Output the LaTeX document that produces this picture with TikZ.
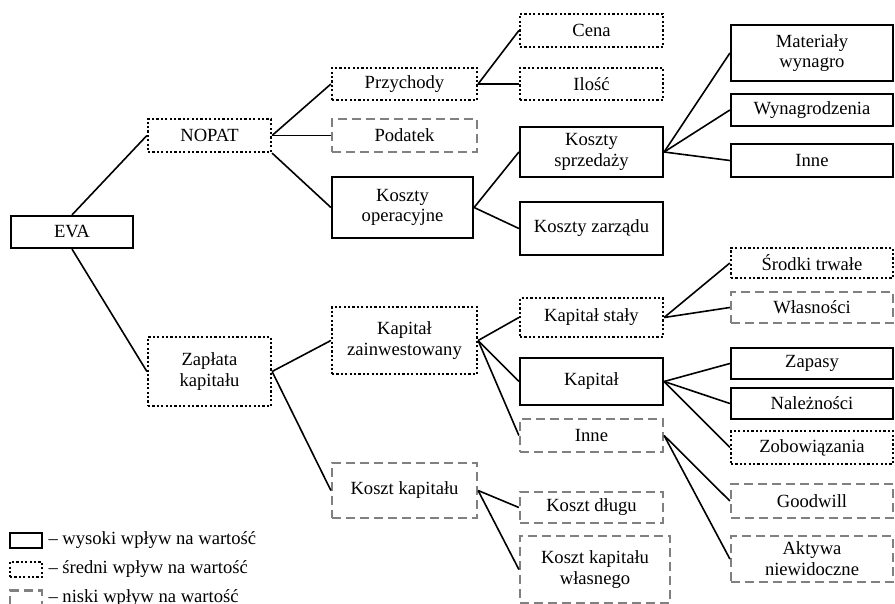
\documentclass[tikz,border=0pt]{standalone}
\usepackage{fontspec}
\setmainfont{Liberation Serif}
\usetikzlibrary{positioning}
\tikzset{
 hi/.style={draw,line width=1.1pt,align=center,inner sep=0pt},
 mid/.style={draw,line width=1.1pt,dash pattern=on 1.1pt off 1.1pt,align=center,inner sep=0pt},
 lo/.style={draw=gray,line width=1.1pt,dash pattern=on 4.5pt off 2.5pt,align=center,inner sep=0pt},
 link/.style={line width=0.8pt}
}
\begin{document}
\begin{tikzpicture}[x=0.5pt,y=-0.5pt,font=\fontsize{9.3}{10.4}\selectfont]
\useasboundingbox (0,0) rectangle (895,604);
\node (eva) at (72,232) [hi,minimum width=61pt,minimum height=16pt] {EVA};
\node (nopat) at (209.5,135.5) [mid,minimum width=61.5pt,minimum height=16.5pt] {NOPAT};
\node (zaplata) at (209.5,371.5) [mid,minimum width=61.5pt,minimum height=34.5pt] {Zapłata\\kapitału};
\node (przychody) at (404.5,84) [mid,minimum width=72.5pt,minimum height=16pt] {Przychody};
\node (podatek) at (404.5,135.5) [lo,minimum width=72.5pt,minimum height=16.5pt] {Podatek};
\node (kosztyop) at (402.5,207.5) [hi,minimum width=70.5pt,minimum height=30.5pt] {Koszty\\operacyjne};
\node (kapzain) at (404.5,340.5) [mid,minimum width=72.5pt,minimum height=33.5pt] {Kapitał\\zainwestowany};
\node (kosztkap) at (404.5,490.5) [lo,minimum width=72.5pt,minimum height=27.5pt] {Koszt kapitału};
\node (cena) at (591.5,30.5) [mid,minimum width=71.5pt,minimum height=16.5pt] {Cena};
\node (ilosc) at (591.5,84) [mid,minimum width=71.5pt,minimum height=16pt] {Ilość};
\node (sprzedaz) at (591.5,152) [hi,minimum width=71.5pt,minimum height=25pt] {Koszty\\sprzedaży};
\node (zarzad) at (591.5,228.5) [hi,minimum width=71.5pt,minimum height=26.5pt] {Koszty zarządu};
\node (kapstaly) at (591.5,317.5) [mid,minimum width=71.5pt,minimum height=19.5pt] {Kapitał stały};
\node (kapobr) at (591.5,381.5) [hi,minimum width=71.5pt,minimum height=23.5pt] {Kapitał};
\node (inne2) at (591.5,435.5) [lo,minimum width=71.5pt,minimum height=16.5pt] {Inne};
\node (dlug) at (591.5,507.5) [lo,minimum width=71.5pt,minimum height=15.5pt] {Koszt długu};
\node (wlasny) at (595,569.5) [lo,minimum width=75pt,minimum height=33.5pt] {Koszt kapitału\\własnego};
\node (materialy) at (812,53) [hi,minimum width=81pt,minimum height=28pt] {Materiały\\wynagro};
\node (wynagr) at (812,110) [hi,minimum width=81pt,minimum height=16pt] {Wynagrodzenia};
\node (inne1) at (812,160.5) [hi,minimum width=81pt,minimum height=16.5pt] {Inne};
\node (srodki) at (812,263) [mid,minimum width=81pt,minimum height=15pt] {Środki trwałe};
\node (wlasnosci) at (812,307.5) [lo,minimum width=81pt,minimum height=15.5pt] {Własności};
\node (zapasy) at (812,363.5) [hi,minimum width=81pt,minimum height=15.5pt] {Zapasy};
\node (naleznosci) at (812,403.5) [hi,minimum width=81pt,minimum height=15.5pt] {Należności};
\node (zobow) at (812,447.5) [mid,minimum width=81pt,minimum height=16.5pt] {Zobowiązania};
\node (goodwill) at (812,501) [lo,minimum width=81pt,minimum height=17pt] {Goodwill};
\node (aktywa) at (812,559) [lo,minimum width=81pt,minimum height=23pt] {Aktywa\\niewidoczne};
\draw[link] (eva.north) -- (nopat.west);
\draw[link] (eva.south) -- (zaplata.west);
\draw[link] (nopat.east) -- (przychody.west);
\draw[link] (nopat.east) -- (podatek.west);
\draw[link] (nopat.south east) -- (kosztyop.west);
\draw[link] (przychody.east) -- (cena.west);
\draw[link] (przychody.east) -- (ilosc.west);
\draw[link] (kosztyop.east) -- (sprzedaz.west);
\draw[link] (kosztyop.east) -- (zarzad.west);
\draw[link] (sprzedaz.east) -- (materialy.west);
\draw[link] (sprzedaz.east) -- (wynagr.west);
\draw[link] (sprzedaz.east) -- (inne1.west);
\draw[link] (zaplata.east) -- (kapzain.west);
\draw[link] (zaplata.east) -- (kosztkap.west);
\draw[link] (kapzain.east) -- (kapstaly.west);
\draw[link] (kapzain.east) -- (kapobr.west);
\draw[link] (kapzain.east) -- (inne2.west);
\draw[link] (kapstaly.east) -- (srodki.west);
\draw[link] (kapstaly.east) -- (wlasnosci.west);
\draw[link] (kapobr.east) -- (zapasy.west);
\draw[link] (kapobr.east) -- (naleznosci.west);
\draw[link] (kapobr.east) -- (zobow.west);
\draw[link] (inne2.east) -- (goodwill.west);
\draw[link] (inne2.east) -- (aktywa.west);
\draw[link] (kosztkap.east) -- (dlug.west);
\draw[link] (kosztkap.east) -- (wlasny.west);
\node (leghi) at (26,540.5) [hi,minimum width=16pt,minimum height=7.5pt] {};
\node (legmid) at (26,569.5) [mid,minimum width=16pt,minimum height=7.5pt] {};
\node (leglo) at (26,598) [lo,minimum width=16pt,minimum height=7.5pt] {};
\node (leghitxt) [right=2.5pt of leghi,inner sep=0pt] {-- wysoki wpływ na wartość};
\node (legmidtxt) [right=2.5pt of legmid,inner sep=0pt] {-- średni wpływ na wartość};
\node (leglotxt) [right=2.5pt of leglo,inner sep=0pt] {-- niski wpływ na wartość};
\end{tikzpicture}
\end{document}
